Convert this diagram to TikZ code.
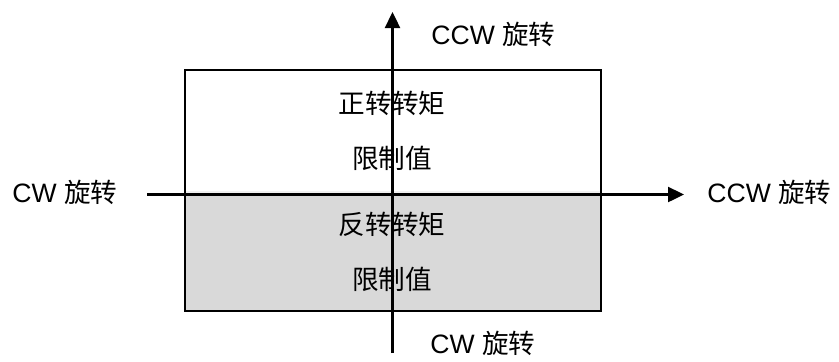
\documentclass[tikz,border=0pt]{standalone}
\usepackage{fontspec}
\setmainfont{Liberation Sans}
\newfontfamily\cjk{Noto Sans CJK SC}
\usetikzlibrary{arrows.meta,positioning}

\tikzset{
  axis/.style={line width=1.2pt,-{Triangle[length=8pt,width=7.5pt]}},
  lbl/.style={font=\fontsize{13.3}{15}\selectfont,inner sep=0pt},
  half/.style={font=\fontsize{13.3}{27.5}\selectfont,align=center,inner sep=0pt}
}

\begin{document}
\begin{tikzpicture}[x=0.5pt,y=-0.5pt]
    \useasboundingbox (0,0) rectangle (839,361);
    % regions of the limit box
    \fill[gray!12!white] (185,191) rectangle (601,194.5);
    \fill[black!15] (185,194.5) rectangle (601,311);
    \draw[line width=1.2pt] (185,70) rectangle (601,311);
    \node[half] (fwd) at (392,131) {{\cjk 正转转矩}\\{\cjk 限制值}};
    \node[half] (rev) at (392,252) {{\cjk 反转转矩}\\{\cjk 限制值}};
    % axes
    \coordinate (xl) at (147,194.5);
    \coordinate (xr) at (684,194.5);
    \coordinate (yb) at (392.5,353);
    \coordinate (yt) at (392.5,12);
    \draw[axis] (xl) -- (xr);
    \draw[axis] (yb) -- (yt);
    % direction labels
    \node[lbl,anchor=west] (ccwtop) at (431,34) {CCW {\cjk 旋转}};
    \node[lbl,anchor=west] (cwleft) at (12,192) {CW {\cjk 旋转}};
    \node[lbl,anchor=west] (ccwright) at (707,192) {CCW {\cjk 旋转}};
    \node[lbl,anchor=west] (cwbot) at (430,343) {CW {\cjk 旋转}};
\end{tikzpicture}
\end{document}
